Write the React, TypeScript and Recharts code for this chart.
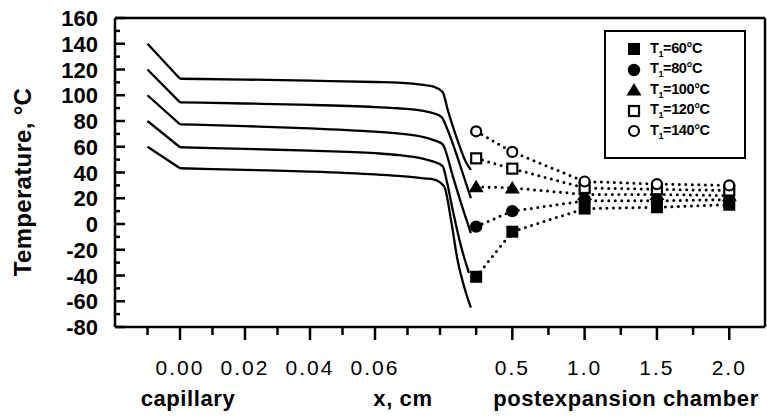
import {
  ComposedChart,
  Line,
  Scatter,
  XAxis,
  YAxis,
  ReferenceLine,
  Legend,
} from "recharts";

// capillary: [x in cm, temperature in °C]
const curve60: [number, number][] = [
  [-0.01, 60], [0, 43.3], [0.02, 42], [0.04, 40.7], [0.06, 38.5],
  [0.067, 37.3], [0.075, 35.5], [0.078, 34.7], [0.0813, 29], [0.0834, 3],
  [0.0854, -28], [0.088, -53.6], [0.0895, -65],
];
const curve80: [number, number][] = [
  [-0.01, 80], [0, 59.6], [0.02, 58.3], [0.04, 57], [0.06, 55],
  [0.067, 53.6], [0.075, 50.5], [0.078, 48.4], [0.0808, 45], [0.0822, 32],
  [0.0839, 11], [0.0865, -17.6], [0.0889, -38],
];
const curve100: [number, number][] = [
  [-0.01, 100], [0, 77.4], [0.02, 76], [0.04, 74.3], [0.06, 71.7],
  [0.067, 70.4], [0.075, 67.5], [0.078, 65.2], [0.0808, 62], [0.0822, 53],
  [0.0834, 42], [0.0865, 16], [0.0895, -7],
];
const curve120: [number, number][] = [
  [-0.01, 120], [0, 94.5], [0.02, 93.6], [0.04, 92.5], [0.06, 90.8],
  [0.067, 89.9], [0.075, 87.8], [0.078, 86], [0.0805, 83], [0.0822, 74],
  [0.0839, 62.7], [0.087, 39.4], [0.0895, 20],
];
const curve140: [number, number][] = [
  [-0.01, 140], [0, 112.8], [0.02, 112.2], [0.04, 111.3], [0.06, 110.3],
  [0.067, 109.8], [0.075, 108], [0.078, 106.7], [0.0808, 102.5], [0.0824, 88.5],
  [0.0854, 65], [0.088, 48], [0.0895, 42],
];

// postexpansion chamber: measured points
const chamberX = [0.25, 0.5, 1.0, 1.5, 2.0];
const chamber60 = [-41, -6, 12, 13, 15];
const chamber80 = [-2, 10, 18, 18, 19];
const chamber100 = [29, 28, 23, 23, 22];
const chamber120 = [51, 43, 28, 27, 26];
const chamber140 = [72, 56, 33, 31, 30];

const seriesNames = ["T1=60°C", "T1=80°C", "T1=100°C", "T1=120°C", "T1=140°C"];
const seriesTemps = ["60", "80", "100", "120", "140"];

// axis ticks
const capTickCm = [-0.01, 0, 0.01, 0.02, 0.03, 0.04, 0.05, 0.06, 0.07, 0.08];
const capTickLabels = ["", "0.00", "", "0.02", "", "0.04", "", "0.06", "", ""];
const chamberTickCm = [0.25, 0.5, 0.75, 1.0, 1.25, 1.5, 1.75, 2.0];
const chamberTickLabels = ["", "0.5", "", "1.0", "", "1.5", "", "2.0"];
const yTicks = [-80, -70, -60, -50, -40, -30, -20, -10, 0, 10, 20, 30, 40, 50, 60, 70, 80, 90, 100, 110, 120, 130, 140, 150, 160];

// broken x axis: capillary in 0.01 cm units, chamber stretched after it
const CHAMBER_ORIGIN = 8.0;
const CHAMBER_SCALE = 4.45;
const capToAxis = (x: number) => x / 0.01;
const chamberToAxis = (x: number) => CHAMBER_ORIGIN + x * CHAMBER_SCALE;
const key = (u: number) => u.toFixed(3);

const xTicks = [...capTickCm.map(capToAxis), ...chamberTickCm.map(chamberToAxis)];
const xLabelMap = new Map<string, string>();
capTickCm.forEach((c, i) => xLabelMap.set(key(capToAxis(c)), capTickLabels[i]));
chamberTickCm.forEach((c, i) => xLabelMap.set(key(chamberToAxis(c)), chamberTickLabels[i]));

const curves = [curve60, curve80, curve100, curve120, curve140];
// straight inlet part (x <= 0) and smooth body (x >= 0)
const inlets = curves.map((c) =>
  c.filter(([x]) => x <= 0).map(([x, t]) => ({ u: capToAxis(x), t })),
);
const bodies = curves.map((c) =>
  c.filter(([x]) => x >= 0).map(([x, t]) => ({ u: capToAxis(x), t })),
);
const chambers = [chamber60, chamber80, chamber100, chamber120, chamber140].map((vals) =>
  vals.map((t, i) => ({ u: chamberToAxis(chamberX[i]), t })),
);

const FONT = "'Liberation Sans', Arial, Helvetica, sans-serif";

function Marker({ cx, cy, kind }: { cx: number; cy: number; kind: number }) {
  switch (kind) {
    case 0:
      return <rect x={cx - 6} y={cy - 6} width={12} height={12} fill="#000" />;
    case 1:
      return <circle cx={cx} cy={cy} r={6.2} fill="#000" />;
    case 2:
      return (
        <polygon
          points={`${cx},${cy - 7} ${cx + 7.5},${cy + 5.5} ${cx - 7.5},${cy + 5.5}`}
          fill="#000"
        />
      );
    case 3:
      return (
        <rect x={cx - 5} y={cy - 5} width={10} height={10} fill="#fff" stroke="#000" strokeWidth={2.2} />
      );
    default:
      return <circle cx={cx} cy={cy} r={5} fill="#fff" stroke="#000" strokeWidth={2.2} />;
  }
}

function XTick(props: any) {
  const { x, y, payload } = props;
  const label = xLabelMap.get(key(payload.value)) ?? "";
  const major = label !== "";
  return (
    <g>
      <line x1={x} x2={x} y1={y} y2={y + (major ? 13 : 8)} stroke="#000" strokeWidth={2.5} />
      {major && (
        <text
          x={x}
          y={y + 48}
          textAnchor="middle"
          fontFamily={FONT}
          fontSize={21}
          letterSpacing={2}
          fill="#000"
        >
          {label}
        </text>
      )}
    </g>
  );
}

function YTick(props: any) {
  const { x, y, payload } = props;
  const major = payload.value % 20 === 0;
  return (
    <g>
      <line x1={x} x2={x + (major ? 10 : 5)} y1={y} y2={y} stroke="#000" strokeWidth={2.5} />
      {major && (
        <text
          x={x - 17}
          y={y + 8}
          textAnchor="end"
          fontFamily={FONT}
          fontSize={22}
          fontWeight="bold"
          fill="#000"
        >
          {payload.value}
        </text>
      )}
    </g>
  );
}

function LegendBox() {
  return (
    <div
      style={{
        border: "2px solid #000",
        background: "#fff",
        width: 138,
        height: 118,
        boxSizing: "content-box",
        paddingTop: 7,
        fontFamily: FONT,
      }}
    >
      {seriesNames.map((name, i) => (
        <div key={name} style={{ display: "flex", alignItems: "center", height: 20.5 }}>
          <svg width={44} height={18} style={{ flex: "none" }}>
            <Marker cx={28} cy={9} kind={i} />
          </svg>
          <span style={{ fontSize: 14.5, fontWeight: "bold", letterSpacing: -0.4 }}>
            T<sub style={{ fontSize: 9 }}>1</sub>={seriesTemps[i]}°C
          </span>
        </div>
      ))}
    </div>
  );
}

const lineProps = {
  dataKey: "t",
  stroke: "#000",
  dot: false,
  activeDot: false,
  legendType: "none" as const,
  isAnimationActive: false,
};

export default function App() {
  return (
    <div style={{ position: "relative", width: 767, height: 416, background: "#fff" }}>
      <style>{`body{margin:0;background:#fff}`}</style>
      <ComposedChart
        width={767}
        height={416}
        margin={{ top: 18, right: 2, bottom: 29, left: 55 }}
      >
        <XAxis
          dataKey="u"
          type="number"
          domain={[-2, 18]}
          allowDataOverflow
          ticks={xTicks}
          interval={0}
          height={60}
          tickSize={0}
          tickMargin={0}
          tickLine={false}
          axisLine={{ stroke: "#000", strokeWidth: 2.5 }}
          tick={<XTick />}
        />
        <YAxis
          dataKey="t"
          type="number"
          domain={[-80, 160]}
          allowDataOverflow
          ticks={yTicks}
          interval={0}
          width={60}
          tickSize={0}
          tickMargin={0}
          tickLine={false}
          axisLine={{ stroke: "#000", strokeWidth: 2.5 }}
          tick={<YTick />}
        />
        <ReferenceLine y={160} stroke="#000" strokeWidth={2.5} />
        <ReferenceLine x={18} stroke="#000" strokeWidth={2.5} />
        {inlets.map((data, i) => (
          <Line key={`a${i}`} data={data} type="linear" strokeWidth={2.3} {...lineProps} />
        ))}
        {bodies.map((data, i) => (
          <Line key={`c${i}`} data={data} type="monotone" strokeWidth={2.3} {...lineProps} />
        ))}
        {chambers.map((data, i) => (
          <Line
            key={`d${i}`}
            data={data}
            type="linear"
            strokeWidth={3}
            strokeDasharray="0 6.5"
            strokeLinecap="round"
            {...lineProps}
          />
        ))}
        {chambers.map((data, i) => (
          <Scatter
            key={`s${i}`}
            name={seriesNames[i]}
            data={data}
            dataKey="t"
            shape={(p: any) => <Marker cx={p.cx} cy={p.cy} kind={i} />}
            isAnimationActive={false}
          />
        ))}
        <Legend
          layout="vertical"
          align="center"
          verticalAlign="middle"
          wrapperStyle={{ left: 604, top: 30, width: 142, height: 127 }}
          content={() => <LegendBox />}
        />
      </ComposedChart>
      <svg
        width={767}
        height={416}
        style={{ position: "absolute", left: 0, top: 0, pointerEvents: "none" }}
      >
        <text
          transform="translate(31,182) rotate(-90)"
          textAnchor="middle"
          fontFamily={FONT}
          fontSize={24}
          fontWeight="bold"
          letterSpacing={0.3}
        >
          Temperature, °C
        </text>
        <g fontFamily={FONT} fontSize={22} fontWeight="bold" letterSpacing={0.6}>
          <text x={188} y={406} textAnchor="middle">capillary</text>
          <text x={403} y={406} textAnchor="middle">x, cm</text>
          <text x={626} y={406} textAnchor="middle">postexpansion chamber</text>
        </g>
      </svg>
    </div>
  );
}
